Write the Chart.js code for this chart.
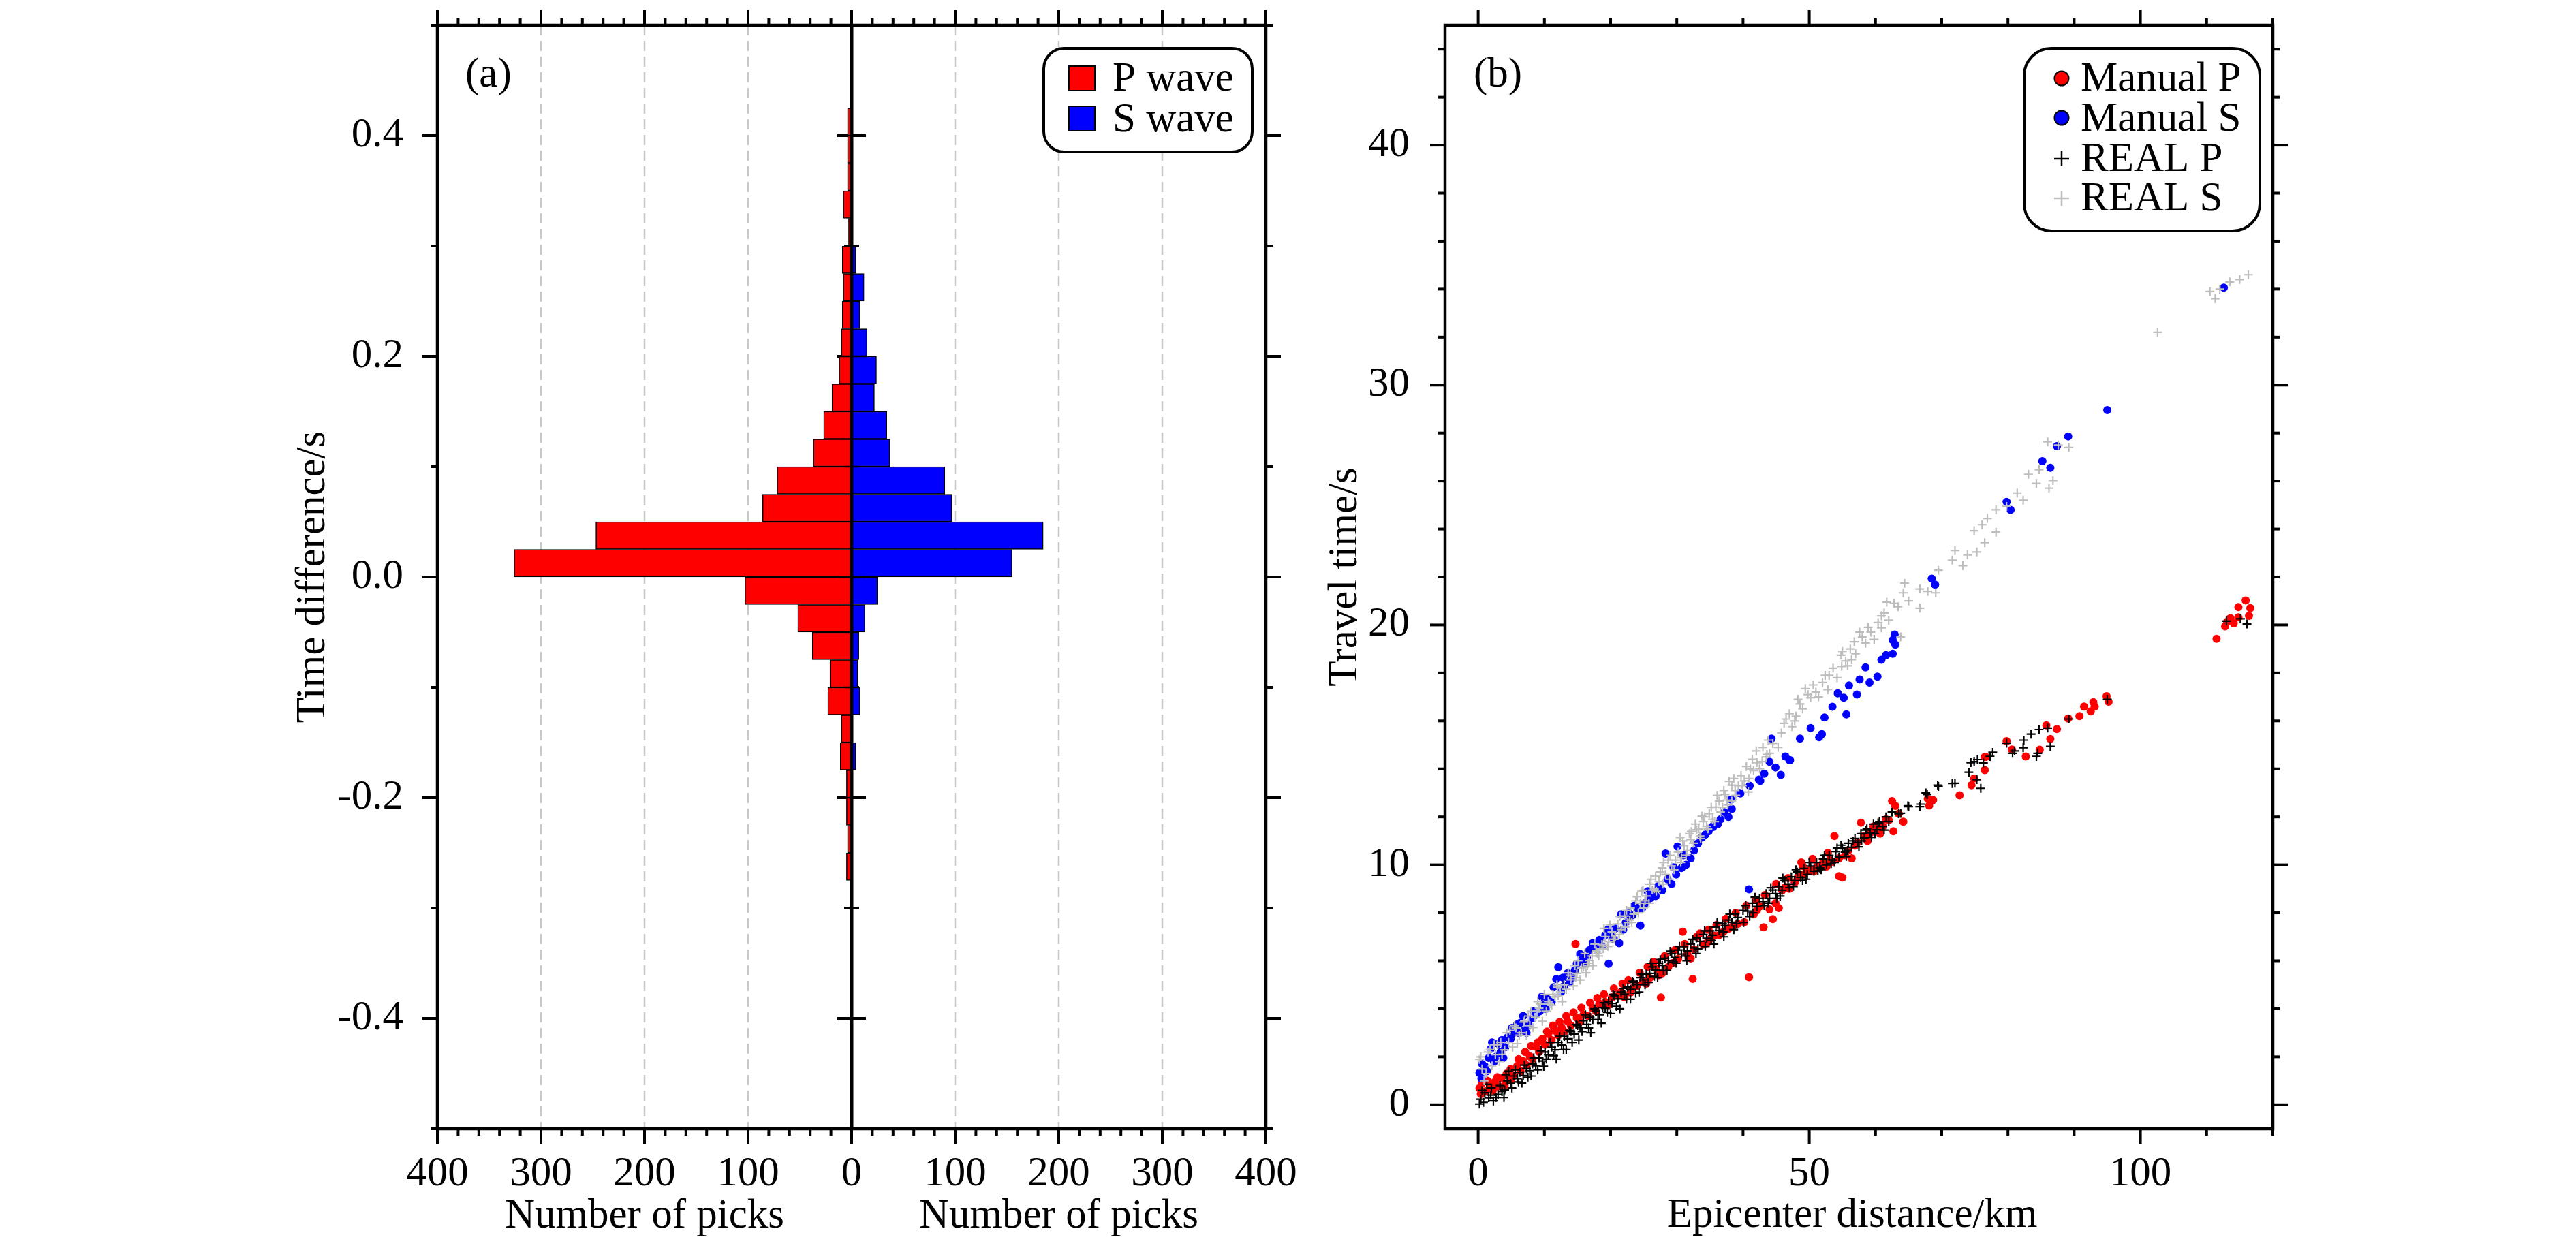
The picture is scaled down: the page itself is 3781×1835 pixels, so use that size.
<!DOCTYPE html>
<html><head><meta charset="utf-8">
<script src="https://cdn.jsdelivr.net/npm/chart.js@4.4.1/dist/chart.umd.min.js"></script>
<style>
html,body{margin:0;padding:0;background:#fff;width:3781px;height:1835px;overflow:hidden;}
canvas{position:absolute;left:0;top:0;}
</style></head><body>
<canvas id="ca" width="3781" height="1835"></canvas>
<canvas id="cb" width="3781" height="1835"></canvas>
<script>
// ---------------- data: panel (a) histogram ----------------
const binWidth = 0.025;
const binLower = [0.400,0.375,0.350,0.325,0.300,0.275,0.250,0.225,0.200,0.175,0.150,0.125,0.100,0.075,0.050,0.025,0.000,
  -0.025,-0.050,-0.075,-0.100,-0.125,-0.150,-0.175,-0.200,-0.225,-0.250,-0.275,-0.300,-0.325,-0.350,-0.375,-0.400,-0.425,-0.450];
const pCounts = [4,4,4,8,3,9,8,9,10,12,19,27,37,72,86,247,326,103,52,38,21,23,10,11,5,5,4,5,1,0,0,0,0,0,1];
const sCounts = [0,0,0,0,0,4,12,8,15,24,22,34,37,90,97,185,155,25,13,7,6,8,0,4,0,0,0,0,0,0,1,0,0,0,0];
const histTicksX = [-400,-300,-200,-100,0,100,200,300,400];
const histTicksY = [-0.4,-0.2,0,0.2,0.4];
const histGridX = [-300,-200,-100,100,200,300];

// ---------------- data: panel (b) travel times [distance km, time s] ----------------
const distTicks = [0,50,100];
const timeTicks = [0,10,20,30,40];
const manualP = [[0.2,0.69],[1.1,0.56],[0.6,0.9],[1.8,0.75],[2.5,0.95],[3.0,0.76],[4.0,0.82],[3.5,1.1],[4.9,1.49],[5.3,1.2],[5.9,1.62],[6.4,1.4],[6.8,1.82],[7.3,1.65],[7.8,2.02],[8.2,1.9],[8.7,2.42],[9.2,2.2],[9.7,2.75],[10.1,2.5],[10.6,2.95],[11.1,2.7],[11.6,3.09],[12.1,2.9],[12.6,3.22],[13.0,3.05],[13.5,3.48],[14.0,3.3],[14.7,6.70],[14.9,3.62],[15.4,3.45],[15.9,3.75],[16.6,3.7],[17.3,4.02],[17.8,3.9],[18.3,4.22],[19.2,4.28],[19.7,4.15],[20.2,4.48],[21.1,4.55],[21.6,4.7],[22.1,4.48],[23.0,4.68],[23.5,4.9],[24.0,4.95],[24.9,5.15],[25.4,5.05],[25.9,5.28],[26.8,5.68],[27.3,5.4],[27.6,4.47],[27.8,5.48],[28.7,5.74],[29.3,5.9],[30.2,6.08],[30.9,7.21],[31.6,6.28],[32.1,6.1],[32.4,5.25],[32.6,6.48],[33.5,7.14],[34.0,6.68],[34.5,6.74],[35.0,6.9],[35.6,7.05],[36.4,7.07],[37.0,7.2],[37.8,7.34],[38.5,7.45],[39.2,7.54],[40.2,7.61],[40.9,5.32],[41.6,7.94],[42.1,8.1],[42.6,8.27],[43.1,7.4],[43.3,8.74],[44.0,8.14],[44.5,7.74],[44.9,8.4],[45.4,8.2],[45.9,8.94],[46.4,9.07],[47.0,9.0],[47.8,9.27],[48.3,9.5],[48.8,10.1],[49.2,9.6],[49.7,9.73],[50.2,9.8],[50.7,9.73],[51.2,9.95],[51.6,9.87],[52.1,10.1],[52.6,9.93],[53.1,10.2],[53.5,10.13],[53.8,11.2],[54.5,9.53],[54.5,10.27],[55.0,9.47],[55.4,10.4],[55.9,10.6],[56.4,10.27],[56.9,10.8],[57.3,10.93],[57.8,11.76],[58.3,11.2],[58.8,11.0],[59.2,11.33],[59.7,11.6],[60.2,11.53],[60.7,11.3],[61.1,11.6],[61.6,11.9],[62.0,11.86],[62.5,12.66],[62.7,11.4],[63.0,12.46],[63.5,12.13],[64.2,11.8],[68.1,12.47],[68.3,12.7],[68.7,12.7],[67.9,12.75],[72.7,12.9],[74.5,13.32],[74.9,13.6],[76.5,13.95],[76.5,14.5],[76.7,14.5],[79.8,15.16],[80.6,14.81],[82.7,14.52],[84.8,14.8],[85.8,15.82],[86.4,15.25],[87.4,15.66],[89.1,16.1],[90.8,16.2],[91.5,16.6],[92.5,16.4],[92.9,16.78],[93.1,16.6],[94.9,17.03],[95.2,16.8],[111.5,19.42],[112.8,19.94],[113.1,20.13],[113.6,20.28],[114.1,20.07],[114.8,20.32],[114.8,20.74],[115.9,21.02],[116.6,20.7],[116.4,20.38],
  [0.4,0.45],[1.4,1.0],[2.2,0.6],[2.9,1.15],[4.3,1.3],[5.0,1.05],[6.1,1.9],[7.1,2.2],[8.0,2.45],[9.0,2.6],[10.4,3.05],[11.3,3.3],[12.3,3.45],[13.3,3.7],[14.4,3.85],[15.6,4.05],[16.9,4.25],[18.0,4.45],[19.0,4.6],[20.5,4.85],[21.8,5.05],[22.7,5.2],[24.4,5.5],[25.6,5.75],[26.5,5.95],[28.2,6.2],[29.7,6.45],[31.2,6.7],[33.0,7.0],[34.8,7.3],[36.0,7.5],[37.4,7.75],[38.9,8.0],[40.5,8.3],[41.9,8.55],[45.0,9.2],[46.8,9.45],[49.0,9.95],[50.5,10.25],[52.8,10.5]];
const manualS = [[0.2,1.33],[0.5,1.1],[1.0,1.6],[1.6,1.95],[1.9,2.33],[2.4,1.8],[3.0,2.55],[3.4,2.2],[3.8,1.95],[4.5,2.82],[4.9,2.75],[5.4,3.0],[5.9,3.35],[6.4,3.42],[7.0,3.1],[7.6,3.32],[8.2,3.6],[8.7,3.75],[9.3,3.9],[9.9,4.15],[10.5,4.4],[11.1,4.28],[11.8,5.24],[12.1,5.74],[12.5,4.7],[13.0,4.95],[13.5,5.48],[14.2,5.3],[14.9,5.88],[15.4,6.28],[16.0,5.9],[16.4,6.14],[17.3,6.74],[17.8,6.5],[18.3,6.87],[19.2,7.07],[19.7,5.88],[20.2,7.0],[20.7,7.34],[21.3,6.74],[21.6,7.94],[22.3,7.6],[23.0,7.87],[23.6,8.3],[24.2,8.14],[24.5,7.47],[25.2,8.4],[25.9,8.6],[26.4,8.87],[27.1,9.1],[27.8,8.94],[28.3,10.47],[29.2,9.2],[29.9,9.6],[30.1,10.76],[30.7,9.87],[31.4,10.0],[32.1,10.27],[33.2,10.9],[33.8,11.14],[34.3,11.26],[35.4,11.6],[35.5,11.58],[36.6,11.9],[37.8,12.0],[38.2,12.72],[38.3,12.33],[39.4,13.0],[39.6,12.98],[40.9,8.98],[42.4,13.55],[42.6,13.5],[44.3,15.26],[44.9,14.06],[45.7,13.75],[46.4,14.52],[47.0,14.37],[47.1,14.36],[48.6,15.26],[50.2,15.7],[51.5,15.32],[51.9,15.45],[52.3,16.14],[53.5,16.59],[54.3,17.15],[55.2,16.97],[55.6,16.27],[56.0,17.48],[57.2,17.1],[57.6,17.73],[58.5,18.23],[59.1,17.6],[60.3,17.85],[60.9,18.55],[61.6,18.74],[62.6,18.8],[62.6,19.37],[63.0,19.18],[62.9,19.6],[68.5,21.93],[69.0,21.68],[79.8,25.13],[80.4,24.8],[85.2,26.83],[86.4,26.55],[87.4,27.45],[89.1,27.86],[95.0,28.96],[112.6,34.06],
  [0.6,1.7],[1.3,1.4],[2.1,2.6],[2.7,2.0],[3.6,2.7],[4.1,2.4],[5.1,3.2],[6.1,3.0],[6.8,3.7],[7.3,3.0],[8.4,3.9],[9.6,4.5],[10.2,4.0],[11.4,4.9],[12.8,5.3],[13.8,5.1],[14.6,5.6],[15.8,6.0],[16.8,6.45],[18.7,6.6],[19.6,7.3],[20.5,6.9],[21.9,7.3],[22.7,8.0],[23.3,7.9],[24.8,8.2],[25.6,8.9],[26.8,8.7],[28.6,9.4],[29.5,9.9],[31.0,10.4],[32.6,10.6],[34.8,11.4],[36.2,11.7],[37.2,12.2],[41.0,13.3],[43.2,13.8],[44.0,14.3]];
const realP = [[0.2,0.03],[0.4,0.23],[1.0,0.5],[1.6,0.29],[2.3,0.16],[2.0,0.7],[3.0,0.43],[3.3,0.8],[4.0,0.62],[4.4,1.0],[4.9,0.89],[5.4,1.2],[5.9,1.09],[6.3,1.35],[6.8,1.22],[7.3,1.5],[7.8,1.42],[8.2,1.7],[8.7,1.62],[9.2,1.95],[9.7,1.82],[10.1,2.2],[10.6,2.09],[11.1,2.4],[11.6,2.29],[12.1,2.6],[12.6,2.49],[13.0,2.85],[13.5,2.75],[14.0,3.05],[14.5,2.95],[15.0,3.3],[15.4,3.22],[15.9,3.5],[16.4,3.35],[16.9,3.65],[17.3,3.55],[17.8,3.9],[18.3,3.75],[18.8,4.05],[19.2,4.02],[19.7,4.3],[20.2,4.22],[20.6,4.55],[21.1,4.41],[21.6,4.7],[22.1,4.61],[22.6,4.9],[23.0,4.81],[23.5,5.1],[24.0,5.01],[24.5,5.3],[24.9,5.21],[25.4,5.45],[25.9,5.48],[26.3,5.75],[26.8,5.61],[27.3,5.9],[27.8,5.81],[28.2,6.1],[28.7,6.01],[29.2,6.3],[29.7,6.14],[30.2,6.45],[30.7,6.28],[31.1,6.6],[31.6,6.41],[32.1,6.7],[32.6,6.54],[33.0,6.95],[33.5,6.81],[34.0,7.1],[34.5,6.94],[35.0,7.25],[35.4,7.07],[35.9,7.4],[36.4,7.27],[36.9,7.55],[37.3,7.47],[37.8,7.7],[38.3,7.61],[38.8,7.95],[39.2,7.81],[40.0,8.1],[40.7,8.07],[41.4,8.4],[42.1,8.27],[42.5,8.6],[43.0,8.47],[43.5,8.8],[44.0,8.6],[44.5,8.95],[44.9,8.8],[45.4,9.1],[45.9,8.94],[46.3,9.35],[46.8,9.2],[47.3,9.5],[47.8,9.34],[48.2,9.7],[48.7,9.47],[49.2,9.85],[49.7,9.6],[50.2,9.95],[50.7,9.73],[51.1,10.1],[51.6,9.87],[52.1,10.25],[52.6,10.0],[53.0,10.4],[53.5,10.2],[54.0,10.55],[54.5,10.33],[54.8,10.82],[55.0,10.7],[55.4,10.53],[55.9,10.9],[56.4,10.73],[56.9,11.1],[57.3,10.93],[57.8,11.3],[58.3,11.13],[58.7,11.5],[59.2,11.33],[59.7,11.7],[60.2,11.46],[60.6,11.8],[61.1,11.6],[61.6,12.0],[62.0,11.8],[62.5,12.2],[63.5,12.13],[63.8,12.15],[64.9,12.46],[65.0,12.43],[66.7,12.43],[66.8,12.53],[67.6,13.0],[67.8,12.93],[69.4,13.32],[69.5,13.27],[71.6,13.39],[72.0,13.4],[74.1,13.86],[74.4,14.26],[74.9,14.3],[75.3,13.55],[75.4,14.39],[75.9,13.19],[76.3,14.25],[77.3,14.52],[77.7,14.69],[79.8,15.07],[80.7,14.65],[81.0,14.75],[82.3,14.88],[82.4,15.2],[83.5,15.45],[84.3,14.52],[84.5,14.65],[84.7,15.64],[86.0,15.7],[86.4,14.94],[89.2,16.08],[95.0,16.9],[113.0,20.16],[115.1,20.26],[116.1,20.04],
  [0.8,0.1],[1.3,0.85],[2.7,0.3],[3.6,0.55],[4.2,1.25],[5.1,0.7],[5.6,1.45],[6.1,0.95],[7.0,1.65],[7.5,1.15],[8.4,1.95],[9.0,1.45],[9.5,2.25],[10.3,1.9],[10.9,2.6],[11.4,2.05],[12.3,2.85],[12.9,2.3],[13.8,3.1],[14.2,2.6],[14.8,3.35],[15.7,3.05],[16.2,3.75],[16.7,3.2],[17.6,4.0],[18.1,3.55],[19.0,4.25],[19.5,3.85],[20.4,4.6],[20.9,4.1],[21.9,4.85],[22.4,4.4],[23.3,5.15],[23.8,4.65],[24.7,5.45],[25.2,5.0],[26.1,5.9],[26.6,5.35],[27.5,6.05],[28.0,5.6],[29.0,6.4],[29.5,5.95],[30.4,6.6],[31.3,6.2],[32.4,6.9],[33.2,6.5],[34.2,7.25],[35.2,6.85],[36.1,7.6],[37.0,7.2],[38.0,7.95],[39.0,7.55],[40.4,8.3],[41.0,7.85],[41.8,8.65],[43.2,8.3],[44.2,9.05],[45.1,8.6],[46.0,9.45],[47.0,9.05],[48.0,9.8],[49.0,9.35],[50.0,10.1],[51.3,9.75],[52.3,10.4],[53.3,10.05],[54.2,10.7],[55.6,10.35],[56.6,11.0],[57.5,10.75],[58.5,11.45],[59.4,11.15],[60.4,11.75],[61.3,11.45],
  [0.6,0.6],[1.9,0.4],[3.9,0.3],[4.6,1.4],[6.6,0.9],[8.0,1.2],[9.9,1.6],[11.8,1.9],[13.3,2.3],[15.2,2.7],[17.0,3.0],[18.6,3.4],[20.0,3.8],[21.4,4.0],[23.0,4.4],[24.3,4.7],[25.7,5.1],[27.1,5.3],[28.5,5.6],[29.9,5.9],[31.5,6.0],[32.9,6.3],[34.3,6.6],[35.6,6.7],[37.1,7.0],[38.6,7.3],[40.1,7.6],[41.5,8.0],[43.8,8.4],[45.6,8.7],[47.6,9.1],[49.5,9.4],[51.8,9.8],[53.8,10.1],[55.8,10.6],[57.9,11.0],[59.9,11.3]];
const realS = [[0.2,1.89],[0.6,1.49],[1.2,1.3],[2.1,1.62],[2.6,2.09],[3.2,1.8],[4.0,2.29],[4.6,2.6],[5.9,2.55],[6.5,3.0],[7.3,2.89],[7.8,3.3],[8.3,3.22],[9.2,4.02],[9.7,3.48],[10.3,3.9],[11.1,4.15],[11.6,4.5],[12.1,4.55],[12.7,4.3],[13.3,4.81],[14.0,5.21],[14.4,4.95],[14.9,5.48],[15.4,5.2],[15.9,5.74],[16.3,5.5],[16.8,6.01],[17.3,5.8],[17.8,6.41],[18.2,6.2],[18.7,6.68],[19.2,7.01],[19.7,6.8],[20.2,7.21],[20.7,7.0],[21.1,7.54],[21.6,7.3],[22.1,7.87],[22.6,7.6],[23.0,8.2],[23.5,7.95],[24.0,8.67],[24.5,8.4],[24.9,8.94],[25.4,8.7],[25.9,9.2],[26.3,8.95],[26.8,9.53],[27.3,9.3],[27.8,9.87],[28.3,9.6],[28.7,10.2],[29.2,9.95],[30.2,10.53],[30.5,11.14],[30.7,10.3],[31.1,10.8],[31.6,10.6],[32.1,11.06],[32.2,11.39],[33.0,11.46],[33.5,11.2],[33.8,12.03],[34.0,11.8],[34.5,11.6],[34.9,12.13],[35.4,11.9],[35.9,12.41],[36.4,12.66],[36.9,12.4],[37.3,12.93],[37.9,13.48],[38.3,13.32],[38.3,12.66],[38.8,13.1],[39.7,13.72],[40.2,13.5],[40.8,13.04],[41.1,13.99],[41.6,13.93],[42.0,14.75],[42.1,14.26],[42.9,14.3],[43.5,14.5],[44.0,14.65],[44.5,15.06],[45.3,14.9],[46.5,16.08],[47.4,15.76],[48.0,16.2],[48.6,16.71],[49.4,17.35],[50.2,16.97],[51.0,17.2],[52.0,17.6],[53.0,17.9],[54.8,18.74],[54.9,18.27],[55.5,18.5],[56.4,18.55],[56.8,19.3],[57.6,19.7],[58.5,19.24],[59.3,19.7],[60.9,19.88],[60.9,20.38],[61.7,20.95],[63.4,20.76],[63.8,19.5],[64.2,21.34],[64.4,21.74],[65.0,21.0],[66.7,21.5],[66.7,20.7],[67.9,21.4],[69.1,21.34],[69.5,22.28],[71.6,22.7],[72.0,23.1],[73.2,22.47],[73.9,22.92],[74.9,23.93],[75.3,23.04],[76.1,24.18],[76.5,23.43],[76.9,24.44],[78.2,24.8],[78.2,23.87],[79.8,24.94],[81.4,25.5],[82.3,25.2],[83.1,26.28],[84.3,25.9],[84.7,26.47],[86.0,27.63],[86.2,25.7],[86.8,26.02],[87.6,27.5],[89.2,27.4],[102.6,32.2],[110.5,33.9],[111.3,33.6],[112.0,34.0],[113.5,34.3],[115.0,34.4],[116.3,34.6],
  [0.9,1.0],[1.5,2.2],[2.9,2.5],[3.6,2.1],[4.3,3.0],[5.2,2.4],[5.5,3.3],[6.9,3.45],[7.6,3.7],[8.6,3.65],[9.0,4.3],[10.0,4.6],[10.8,4.2],[11.9,5.0],[12.4,4.7],[13.6,5.5],[14.6,5.8],[15.1,6.0],[16.1,6.3],[16.6,5.9],[17.6,6.7],[18.4,6.5],[19.0,7.35],[19.9,7.5],[20.4,6.9],[21.4,7.85],[22.4,8.1],[22.9,7.7],[23.8,8.5],[24.7,8.9],[25.2,8.5],[26.1,9.4],[26.6,9.0],[27.5,9.7],[28.0,10.1],[29.0,10.4],[29.8,10.2],[30.9,11.0],[31.9,11.3],[32.8,11.7],[33.3,11.5],[34.2,12.0],[35.2,12.4],[36.1,12.9],[37.1,13.1],[37.6,12.7],[38.6,13.6],[39.3,13.3],[40.5,14.1],[41.4,14.4],[43.0,14.9],[43.8,15.2],
  [0.4,2.0],[1.8,2.3],[2.4,2.5],[3.4,2.6],[4.8,3.1],[5.7,3.2],[6.2,2.9],[7.0,3.5],[8.0,3.9],[8.9,3.9],[9.4,4.2],[10.6,4.3],[11.3,4.6],[12.0,4.9],[13.0,5.0],[13.9,5.4],[14.7,5.3],[15.6,5.7],[16.5,5.8],[17.2,6.2],[18.0,6.3],[18.9,6.5],[19.6,6.6],[20.6,6.9],[21.3,7.1],[22.2,7.4],[23.2,7.6],[24.2,8.0],[25.0,8.2],[25.8,8.4],[26.9,8.9],[27.9,9.2],[28.9,9.4],[29.6,9.8],[30.6,10.1],[31.4,10.4],[32.5,10.9],[33.6,11.1],[34.7,11.5],[35.7,11.8],[36.6,12.2],[37.7,12.5],[38.9,12.9],[39.9,13.3],[40.9,13.6],[42.5,14.0],[43.6,14.6],
  [45.8,15.5],[46.2,15.9],[47.0,16.3],[47.8,16.0],[48.3,16.9],[49.0,16.5],[49.8,17.1],[50.6,17.5],[51.4,17.0],[52.4,17.9],[52.8,17.3],[53.6,18.2],[54.2,17.8],[55.0,18.9],[55.8,18.3],[56.2,19.0],[57.0,18.8],[58.0,19.5],[58.9,19.9],[59.8,19.4],[60.4,20.1],[61.3,20.5],[62.0,20.2],[62.8,20.9]];

// ---------------- styling ----------------
const FONT = "'Liberation Serif', 'Times New Roman', serif";
const FS = 61;
const RED = '#ff0000', BLUE = '#0000ff', GRAY = '#bdbdbd';
Chart.defaults.font.family = FONT;
Chart.defaults.font.size = FS;
Chart.defaults.color = '#000';

function seg(ctx, x1, y1, x2, y2) { ctx.beginPath(); ctx.moveTo(x1, y1); ctx.lineTo(x2, y2); ctx.stroke(); }
function roundBox(ctx, x, y, w, h, r) {
  ctx.beginPath(); ctx.moveTo(x + r, y);
  ctx.arcTo(x + w, y, x + w, y + h, r); ctx.arcTo(x + w, y + h, x, y + h, r);
  ctx.arcTo(x, y + h, x, y, r); ctx.arcTo(x, y, x + w, y, r); ctx.closePath();
}
function drawFrame(chart, xt, yt) {
  const {ctx, chartArea: a} = chart;
  const xs = chart.scales.x, ys = chart.scales.y;
  ctx.save();
  ctx.strokeStyle = '#000'; ctx.lineCap = 'butt';
  ctx.lineWidth = 4;
  xt.forEach(([v, M]) => { const p = xs.getPixelForValue(v), L = M ? 22 : 10;
    seg(ctx, p, a.bottom, p, a.bottom + L); seg(ctx, p, a.top, p, a.top - L); });
  yt.forEach(([v, M]) => { const p = ys.getPixelForValue(v), L = M ? 22 : 10;
    seg(ctx, a.left, p, a.left - L, p); seg(ctx, a.right, p, a.right + L, p); });
  ctx.lineWidth = 4.5; ctx.lineJoin = 'miter';
  ctx.strokeRect(a.left, a.top, a.right - a.left, a.bottom - a.top);
  ctx.restore();
}
function text(ctx, s, x, y, align, rot) {
  ctx.save(); ctx.font = FS + 'px ' + FONT; ctx.fillStyle = '#000';
  ctx.textAlign = align || 'left'; ctx.textBaseline = 'alphabetic';
  ctx.translate(x, y); if (rot) ctx.rotate(rot); ctx.fillText(s, 0, 0); ctx.restore();
}
function noPad(s) { s.paddingTop = 0; s.paddingBottom = 0; s.paddingLeft = 0; s.paddingRight = 0; }

const histXT = []; for (let k = -20; k <= 20; k++) histXT.push([k * 20, k % 5 === 0]);
const histYT = []; for (let k = -5; k <= 5; k++) histYT.push([k / 10, k % 2 === 0]);
const ttXT = []; for (let k = 0; k <= 12; k++) ttXT.push([k * 10, k % 5 === 0]);
const ttYT = []; for (let k = 0; k <= 22; k++) ttYT.push([k * 2, k % 5 === 0]);

// ---------------- panel (a) ----------------
const histPlugin = {
  id: 'histDecor',
  beforeDatasetsDraw(chart) {
    const {ctx, chartArea: a} = chart; const xs = chart.scales.x, ys = chart.scales.y;
    ctx.save();
    ctx.strokeStyle = '#c8c8c8'; ctx.lineWidth = 2.5; ctx.setLineDash([15, 8]);
    histGridX.forEach(v => { const p = xs.getPixelForValue(v); seg(ctx, p, a.top, p, a.bottom); });
    ctx.setLineDash([]); ctx.strokeStyle = '#000'; ctx.lineWidth = 4;
    const x0 = xs.getPixelForValue(0);
    histYT.forEach(([v, M]) => { if (Math.abs(v) > 0.45) return; const p = ys.getPixelForValue(v), L = M ? 21 : 11;
      seg(ctx, x0 - L, p, x0 + L, p); });
    ctx.restore();
  },
  afterDatasetsDraw(chart) {
    const {ctx, chartArea: a} = chart; const x0 = chart.scales.x.getPixelForValue(0);
    ctx.save(); ctx.strokeStyle = '#000'; ctx.lineWidth = 5; seg(ctx, x0, a.top, x0, a.bottom); ctx.restore();
  },
  afterDraw(chart) {
    const {ctx, chartArea: a} = chart; const xs = chart.scales.x;
    drawFrame(chart, histXT, histYT);
    ctx.save();
    ctx.lineWidth = 4; ctx.strokeStyle = '#000'; ctx.fillStyle = '#fff';
    roundBox(ctx, a.right - 326, a.top + 34, 306, 152, 30); ctx.fill(); ctx.stroke();
    const ds = chart.data.datasets;
    [[a.top + 60, a.top + 96], [a.top + 119, a.top + 156]].forEach(([sy, by], i) => {
      ctx.fillStyle = ds[i].backgroundColor; ctx.fillRect(a.right - 289, sy, 38, 36);
      ctx.lineWidth = 2; ctx.strokeRect(a.right - 289, sy, 38, 36);
      text(ctx, ds[i].label, a.right - 225, by);
    });
    ctx.restore();
    text(ctx, '(a)', a.left + 41, a.top + 90);
    text(ctx, 'Number of picks', xs.getPixelForValue(-200), a.bottom + 145, 'center');
    text(ctx, 'Number of picks', xs.getPixelForValue(200), a.bottom + 145, 'center');
    text(ctx, 'Time difference/s', a.left - 166, (a.top + a.bottom) / 2, 'center', -Math.PI / 2);
  }
};

const pData = [], sData = [];
binLower.forEach((lo, i) => {
  const c = lo + binWidth / 2;
  if (pCounts[i]) pData.push({x: -pCounts[i], y: c});
  if (sCounts[i]) sData.push({x: sCounts[i], y: c});
});

new Chart(document.getElementById('ca'), {
  type: 'bar',
  data: { datasets: [
    {label: 'P wave', data: pData, backgroundColor: RED, borderColor: '#000', borderWidth: 1.5, borderSkipped: false,
     grouped: false, barPercentage: 1, categoryPercentage: 1},
    {label: 'S wave', data: sData, backgroundColor: BLUE, borderColor: '#000', borderWidth: 1.5, borderSkipped: false,
     grouped: false, barPercentage: 1, categoryPercentage: 1}
  ]},
  options: {
    indexAxis: 'y', responsive: false, animation: false, devicePixelRatio: 1, events: [],
    layout: {padding: {left: 0, top: 37, right: 3781 - 1858, bottom: 0}},
    plugins: {legend: {display: false}, tooltip: {enabled: false}, title: {display: false}},
    scales: {
      x: {type: 'linear', position: 'bottom', min: -400, max: 400,
          grid: {display: false}, border: {display: false},
          ticks: {padding: 22, autoSkip: false, maxRotation: 0, callback: v => String(Math.abs(v))},
          afterBuildTicks: s => { s.ticks = histTicksX.map(v => ({value: v})); },
          afterFit: s => { s.height = 178; noPad(s); }},
      y: {type: 'linear', position: 'left', min: -0.5, max: 0.5, offset: false,
          grid: {display: false, offset: false}, border: {display: false},
          ticks: {padding: 42, autoSkip: false, callback: v => Number(v).toFixed(1)},
          afterBuildTicks: s => { s.ticks = histTicksY.map(v => ({value: v})); },
          afterFit: s => { s.width = 642; noPad(s); }}
    }
  },
  plugins: [histPlugin]
});

// ---------------- panel (b) ----------------
const ttPlugin = {
  id: 'ttDecor',
  afterDraw(chart) {
    const {ctx, chartArea: a} = chart;
    drawFrame(chart, ttXT, ttYT);
    ctx.save();
    ctx.lineWidth = 4; ctx.strokeStyle = '#000'; ctx.fillStyle = '#fff';
    roundBox(ctx, a.right - 365, a.top + 34, 346, 268, 40); ctx.fill(); ctx.stroke();
    const ds = chart.data.datasets; const cx = a.right - 310;
    const rows = [[a.top + 78, a.top + 96], [a.top + 136, a.top + 155], [a.top + 196, a.top + 214], [a.top + 254, a.top + 272]];
    rows.forEach(([cy, by], i) => {
      const d = ds[i];
      if (d.pointStyle === 'circle') {
        ctx.beginPath(); ctx.arc(cx, cy, 10.5, 0, Math.PI * 2);
        ctx.fillStyle = d.pointBackgroundColor; ctx.fill(); ctx.lineWidth = 2; ctx.strokeStyle = '#000'; ctx.stroke();
      } else {
        ctx.strokeStyle = d.pointBorderColor; ctx.lineWidth = 2.5;
        seg(ctx, cx - 11, cy, cx + 11, cy); seg(ctx, cx, cy - 11, cx, cy + 11);
      }
      text(ctx, d.label, a.right - 282, by);
    });
    ctx.restore();
    text(ctx, '(b)', a.left + 42, a.top + 90);
    text(ctx, 'Epicenter distance/km', (a.left + a.right) / 2 - 10, a.bottom + 144, 'center');
    text(ctx, 'Travel time/s', a.left - 130, (a.top + a.bottom) / 2, 'center', -Math.PI / 2);
  }
};
const pts = arr => arr.map(([x, y]) => ({x, y}));
new Chart(document.getElementById('cb'), {
  type: 'scatter',
  data: { datasets: [
    {label: 'Manual P', data: pts(manualP), pointStyle: 'circle', pointRadius: 6, pointBackgroundColor: RED,
     pointBorderColor: RED, pointBorderWidth: 0, backgroundColor: RED, borderColor: RED, order: 3},
    {label: 'Manual S', data: pts(manualS), pointStyle: 'circle', pointRadius: 6, pointBackgroundColor: BLUE,
     pointBorderColor: BLUE, pointBorderWidth: 0, backgroundColor: BLUE, borderColor: BLUE, order: 2},
    {label: 'REAL P', data: pts(realP), pointStyle: 'cross', pointRadius: 6.5, pointBorderColor: '#000',
     pointBorderWidth: 2.2, borderColor: '#000', order: 1},
    {label: 'REAL S', data: pts(realS), pointStyle: 'cross', pointRadius: 6.5, pointBorderColor: GRAY,
     pointBorderWidth: 2.2, borderColor: GRAY, order: 0}
  ]},
  options: {
    responsive: false, animation: false, devicePixelRatio: 1, events: [],
    layout: {padding: {left: 0, top: 37, right: 3781 - 3336, bottom: 0}},
    plugins: {legend: {display: false}, tooltip: {enabled: false}, title: {display: false}},
    scales: {
      x: {type: 'linear', position: 'bottom', min: -5, max: 120,
          grid: {display: false}, border: {display: false},
          ticks: {padding: 22, autoSkip: false, maxRotation: 0, callback: v => String(v)},
          afterBuildTicks: s => { s.ticks = distTicks.map(v => ({value: v})); },
          afterFit: s => { s.height = 178; noPad(s); }},
      y: {type: 'linear', position: 'left', min: -1, max: 45,
          grid: {display: false}, border: {display: false},
          ticks: {padding: 44, autoSkip: false, callback: v => String(v)},
          afterBuildTicks: s => { s.ticks = timeTicks.map(v => ({value: v})); },
          afterFit: s => { s.width = 2121; noPad(s); }}
    }
  },
  plugins: [ttPlugin]
});
</script>
</body></html>
